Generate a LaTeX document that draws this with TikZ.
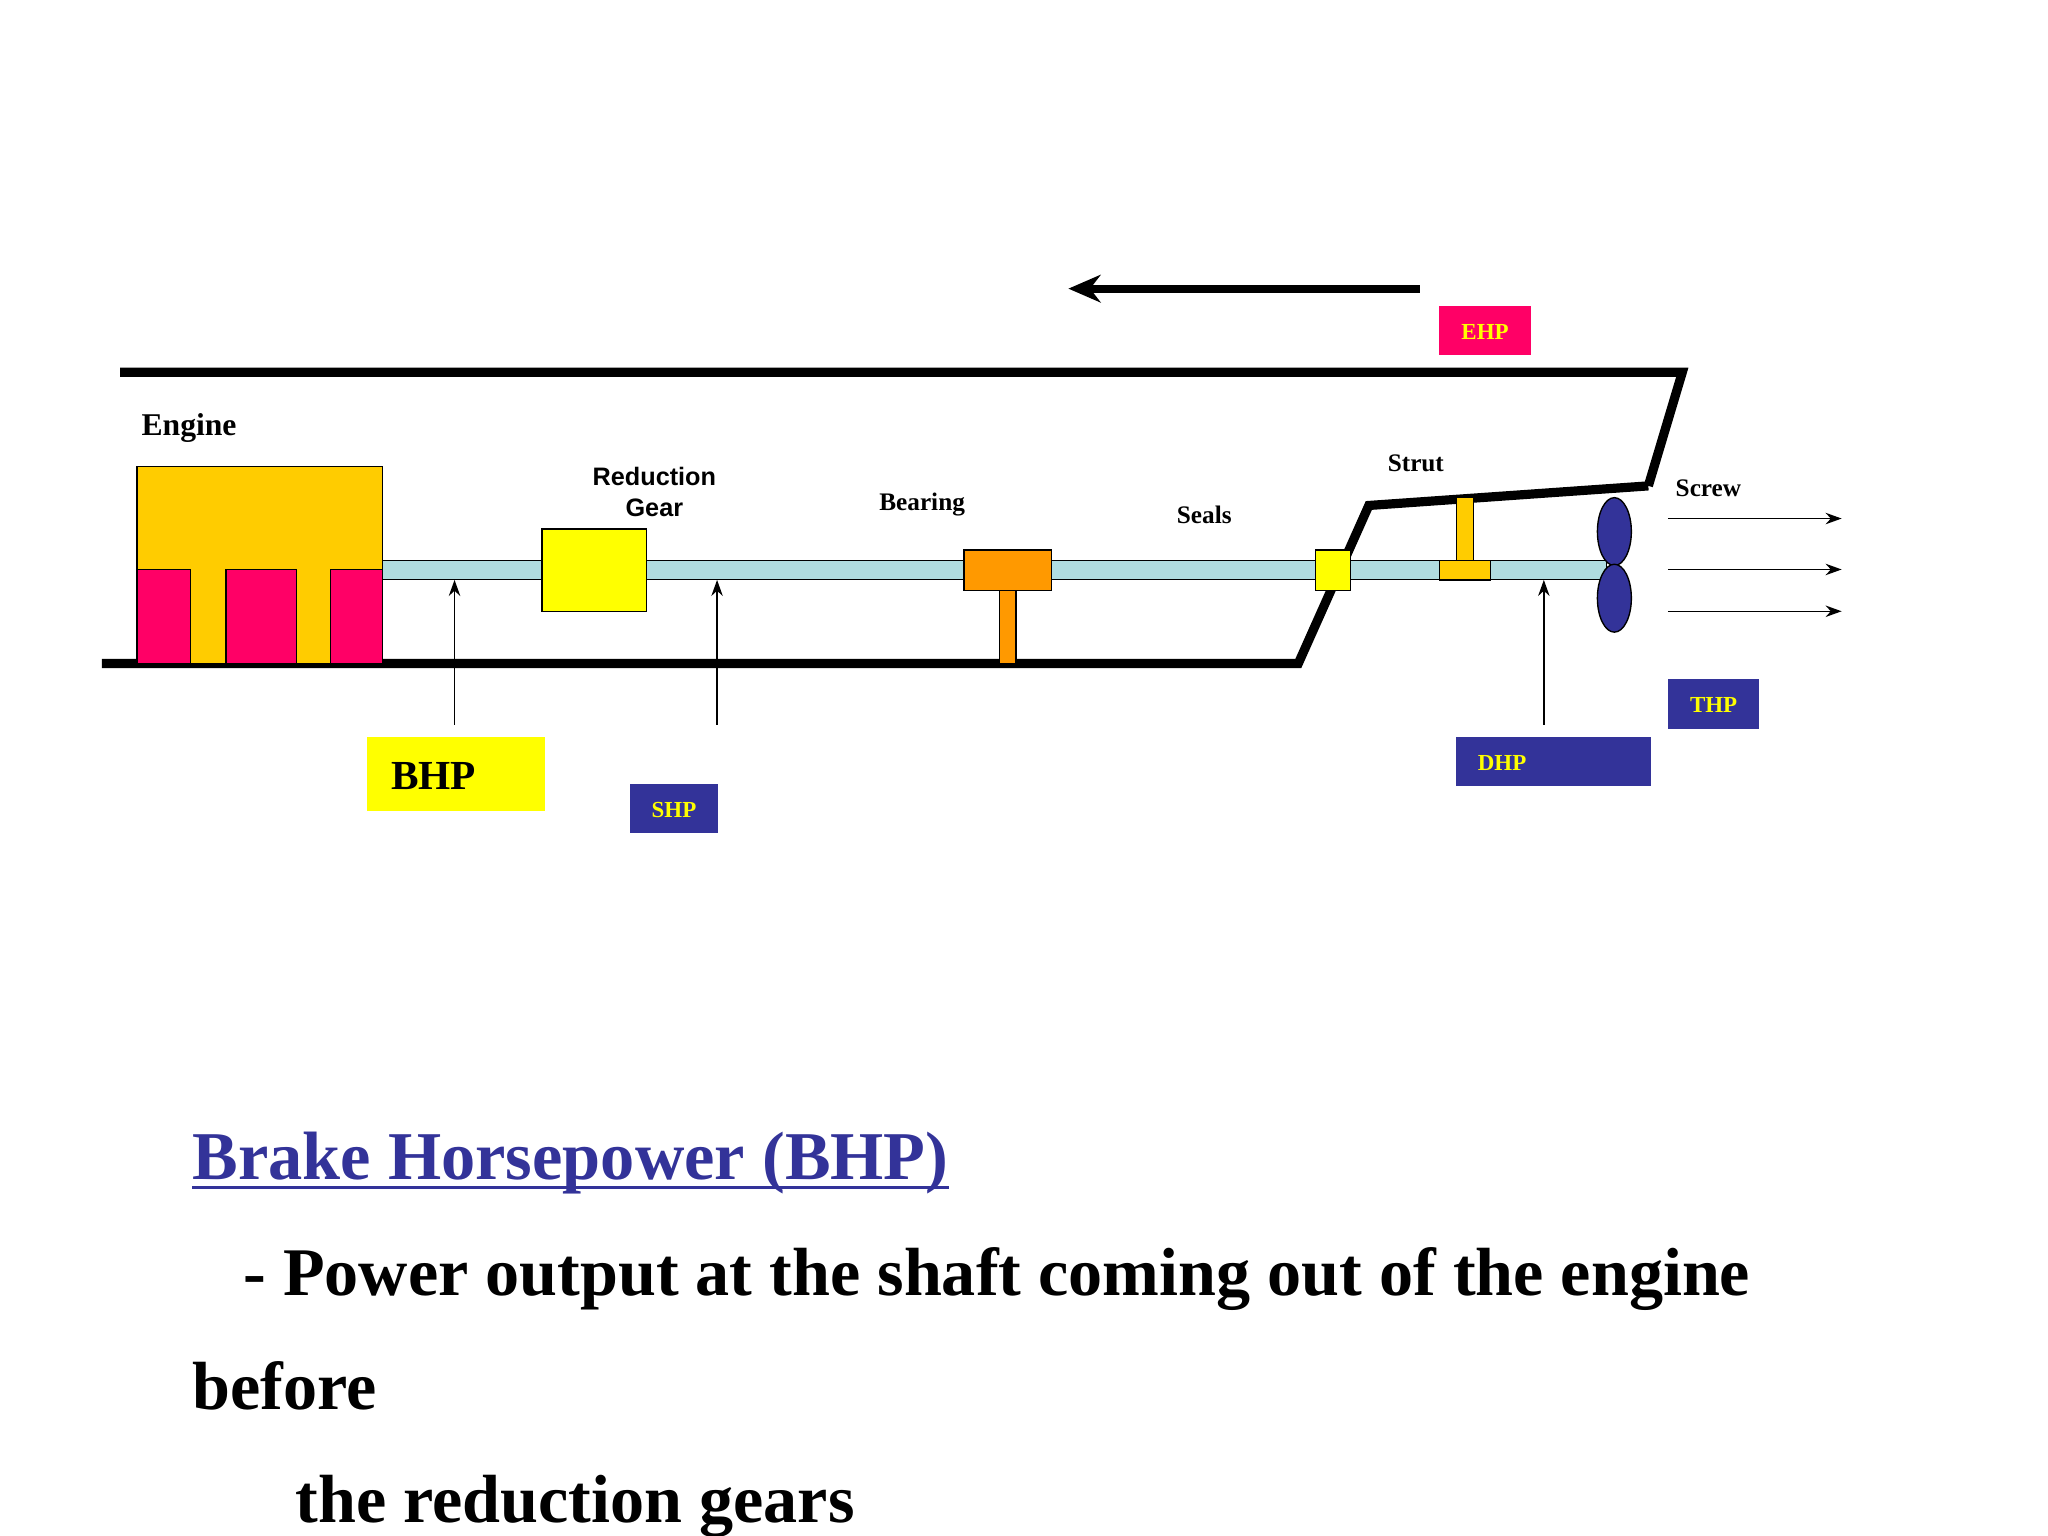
\documentclass[tikz,border=0pt]{standalone}
\usepackage{fontspec}
\setmainfont{Liberation Serif}
\newfontfamily\arialf{Liberation Sans}
\usetikzlibrary{arrows.meta}
\definecolor{navy}{HTML}{333399}
\definecolor{pinkr}{HTML}{FF0066}
\definecolor{gold}{HTML}{FFCC00}
\definecolor{shaftc}{HTML}{B0DDE0}
\definecolor{orng}{HTML}{FF9900}
\definecolor{yel}{HTML}{FFFF00}
\begin{document}
\begin{tikzpicture}[x=0.02cm,y=-0.02cm,
  hull/.style={line width=4pt,line join=miter},
  part/.style={draw=black,line width=0.6pt},
  lab/.style={font=\bfseries\fontsize{11}{13}\selectfont,inner sep=0},
  tag/.style={font=\bfseries\fontsize{10}{12}\selectfont,text=yel,inner sep=0},
  thin/.style={line width=0.6pt,-{Stealth[length=7pt,width=5pt]}},
  big/.style={font=\bfseries\fontsize{29.7}{34}\selectfont,anchor=base west,inner sep=0}]
\useasboundingbox (0,0) rectangle (1568,1176);
% direction arrow
\coordinate (da) at (1087,221); \coordinate (db) at (818,221);
\draw[line width=3.5pt,-{Stealth[length=14pt,width=12pt]}] (da) -- (db);
\fill[pinkr] (1102,234) rectangle (1172,272);
\node[tag] (ehp) at (1137,254) {EHP};
% hull
\coordinate (h1) at (92,285); \coordinate (h2) at (1288,285); \coordinate (h3) at (1262,372);
\coordinate (h4) at (1048,387); \coordinate (h5) at (994,508); \coordinate (h6) at (78,508);
\draw[hull] (h1) -- (h2) -- (h3);
\draw[hull] (h3) -- (h4) -- (h5) -- (h6);
% shaft
\fill[shaftc,draw=black,line width=0.4pt] (293,429) rectangle (1230,444);
% engine
\draw[part,fill=gold] (105,357) rectangle (293,508);
\draw[part,fill=pinkr] (105,436) rectangle (146,508);
\draw[part,fill=pinkr] (173,436) rectangle (227,508);
\draw[part,fill=pinkr] (253,436) rectangle (293,508);
\node[lab,anchor=west,font=\bfseries\fontsize{13.8}{15}\selectfont] (eng) at (108,328) {Engine};
% reduction gear
\draw[part,fill=yel] (415,405) rectangle (495,468);
\node[lab,align=center,font=\arialf\bfseries\fontsize{11}{13.5}\selectfont] (rg) at (501,377) {Reduction\\Gear};
% bearing
\draw[part,fill=orng] (765,452) rectangle (778,508);
\draw[part,fill=orng] (738,421) rectangle (805,452);
\node[lab] (brg) at (706,386) {Bearing};
% seals
\node[lab] (sl) at (922,394) {Seals};
\draw[part,fill=yel] (1007,421) rectangle (1034,452);
% strut
\draw[part,fill=gold] (1115,381) rectangle (1128,429);
\draw[part,fill=gold] (1102,429) rectangle (1141,444);
\node[lab] (st) at (1084,355) {Strut};
% propeller
\draw[part,fill=navy] (1236,407) ellipse (13 and 26);
\draw[part,fill=navy] (1236,458) ellipse (13 and 26);
\node[lab] (scr) at (1308,374) {Screw};
\foreach \yy/\n in {397/a,436/b,468/c}{
  \coordinate (s\n) at (1277,\yy); \coordinate (t\n) at (1410,\yy);
  \draw[thin] (s\n) -- (t\n);}
% tags
\fill[navy] (1277,520) rectangle (1347,558);
\node[tag] (thp) at (1312,540) {THP};
\fill[navy] (1115,564) rectangle (1264,602);
\node[tag] (dhp) at (1150,584) {DHP};
\fill[yel] (281,564) rectangle (417,621);
\node[inner sep=0,font=\bfseries\fontsize{18}{20}\selectfont] (bhp) at (332,594) {BHP};
\fill[navy] (482,600) rectangle (550,638);
\node[tag] (shp) at (516,620) {SHP};
% up arrows
\foreach \xx/\n in {348/p,549/q,1182/r}{
  \coordinate (u\n) at (\xx,555); \coordinate (v\n) at (\xx,444);
  \draw[thin] (u\n) -- (v\n);}
% text
\node[big,text=navy,font=\bfseries\fontsize{29.8}{34}\selectfont] (title) at (147,903) {Brake Horsepower (BHP)};
\draw[navy,line width=1.2pt] (title.south west |- 0,909) -- (title.south east |- 0,909);
\node[big] (l1) at (186,992) {- Power output at the shaft coming out of the engine};
\node[big] (l2) at (147,1079) {before};
\node[big] (l3) at (226,1166) {the reduction gears};
\end{tikzpicture}
\end{document}
